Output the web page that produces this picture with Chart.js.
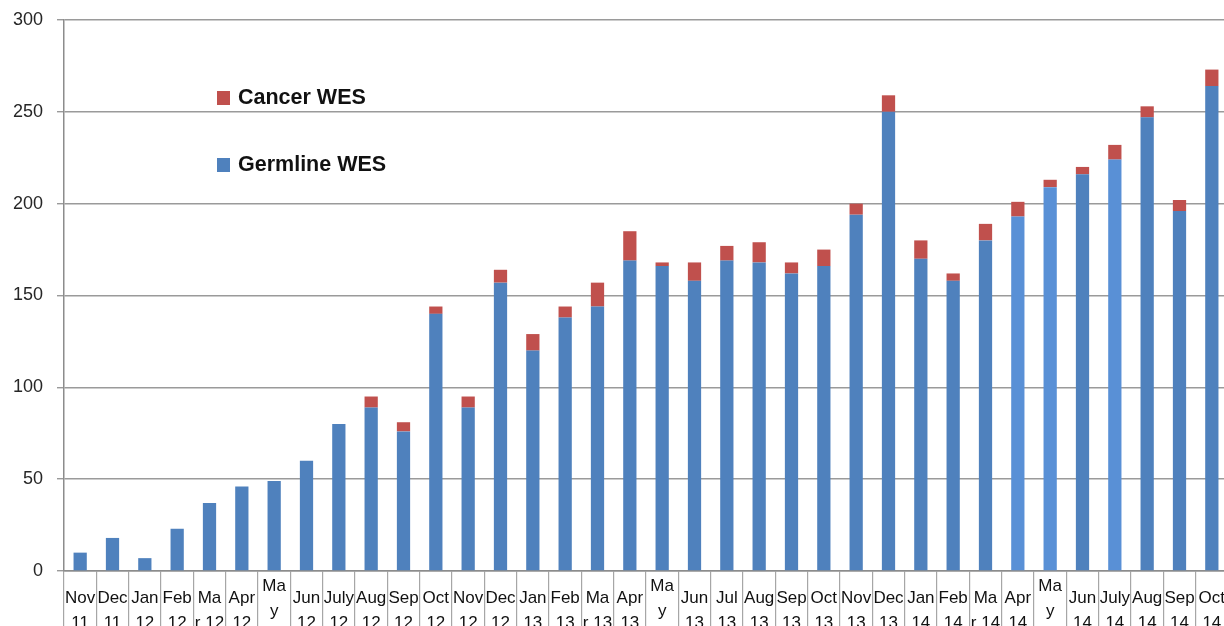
<!DOCTYPE html>
<html>
<head>
<meta charset="utf-8">
<script src="https://cdn.jsdelivr.net/npm/chart.js@4/dist/chart.umd.min.js"></script>
<style>
  html, body { margin: 0; padding: 0; background: #fff; overflow: hidden; }
  #wrap { width: 1232px; height: 660px; }
</style>
</head>
<body>
<div id="wrap"><canvas id="c" width="1232" height="660"></canvas></div>
<script>
// Monthly whole-exome sequencing volumes, Nov 2011 – Oct 2014
const monthLabels = [
  ["Nov", "11"], ["Dec", "11"], ["Jan", "12"], ["Feb", "12"], ["Ma", "r 12"], ["Apr", "12"],
  ["Ma", "y", "12"], ["Jun", "12"], ["July", "12"], ["Aug", "12"], ["Sep", "12"], ["Oct", "12"],
  ["Nov", "12"], ["Dec", "12"], ["Jan", "13"], ["Feb", "13"], ["Ma", "r 13"], ["Apr", "13"],
  ["Ma", "y", "13"], ["Jun", "13"], ["Jul", "13"], ["Aug", "13"], ["Sep", "13"], ["Oct", "13"],
  ["Nov", "13"], ["Dec", "13"], ["Jan", "14"], ["Feb", "14"], ["Ma", "r 14"], ["Apr", "14"],
  ["Ma", "y", "14"], ["Jun", "14"], ["July", "14"], ["Aug", "14"], ["Sep", "14"], ["Oct", "14"]
];

const germlineWES = [
  10, 18, 7, 23, 37, 46, 49, 60, 80, 89, 76, 140,
  89, 157, 120, 138, 144, 169, 166, 158, 169, 168, 162, 166,
  194, 250, 170, 158, 180, 193, 209, 216, 224, 247, 196, 264
];

const cancerWES = [
  0, 0, 0, 0, 0, 0, 0, 0, 0, 6, 5, 4,
  6, 7, 9, 6, 13, 16, 2, 10, 8, 11, 6, 9,
  6, 9, 10, 4, 9, 8, 4, 4, 8, 6, 6, 9
];

const yTickValues = [0, 50, 100, 150, 200, 250, 300];

// colours
const BLUE = '#4f81bd';
const BLUE_LIGHT = '#5990d6';
const RED = '#c0504d';
const lighterBars = new Set([29, 30, 32]);   // Apr 14, May 14, July 14 were filled a shade lighter
const germlineColors = germlineWES.map((_, i) => lighterBars.has(i) ? BLUE_LIGHT : BLUE);

// legend drawn inside the plot, stacked vertically
const insideLegend = {
  id: 'insideLegend',
  afterDraw(chart) {
    const ctx = chart.ctx;
    const entries = [
      { ds: chart.data.datasets[1], y: 98 },
      { ds: chart.data.datasets[0], y: 165 }
    ];
    ctx.save();
    ctx.font = 'bold 21.5px "Liberation Sans", Arial, sans-serif';
    ctx.textBaseline = 'middle';
    ctx.textAlign = 'left';
    entries.forEach(e => {
      const c = Array.isArray(e.ds.backgroundColor) ? e.ds.backgroundColor[0] : e.ds.backgroundColor;
      ctx.fillStyle = c;
      ctx.fillRect(217, e.y - 7, 13, 14);
      ctx.fillStyle = '#111';
      ctx.fillText(e.ds.label, 238, e.y);
    });
    ctx.restore();
  }
};

new Chart(document.getElementById('c'), {
  type: 'bar',
  data: {
    labels: monthLabels,
    datasets: [
      {
        label: 'Germline WES',
        data: germlineWES,
        backgroundColor: germlineColors,
        borderWidth: 0,
        categoryPercentage: 1,
        barPercentage: 0.41
      },
      {
        label: 'Cancer WES',
        data: cancerWES,
        backgroundColor: RED,
        borderWidth: 0,
        categoryPercentage: 1,
        barPercentage: 0.41
      }
    ]
  },
  options: {
    responsive: false,
    animation: false,
    devicePixelRatio: 1,
    layout: { padding: { top: 20, right: 4, left: 0, bottom: 0 } },
    plugins: {
      legend: { display: false },
      tooltip: { enabled: false }
    },
    scales: {
      x: {
        stacked: true,
        offset: true,
        grid: {
          offset: true,
          drawOnChartArea: false,
          drawTicks: true,
          tickLength: 70,
          color: '#a6a6a6',
          lineWidth: 1.2
        },
        border: { display: true, color: '#8c8c8c', width: 1.5 },
        ticks: {
          autoSkip: false,
          maxRotation: 0,
          minRotation: 0,
          padding: -55,
          crossAlign: 'center',
          color: '#111',
          font: { family: '"Liberation Sans Narrow", "Liberation Sans", Arial, sans-serif', size: 17, lineHeight: '25px' }
        },
        afterFit(scale) {
          scale.height = 660 - 571;
          scale.paddingLeft = 0;
          scale.paddingRight = 0;
        }
      },
      y: {
        stacked: true,
        min: 0,
        max: 300,
        afterBuildTicks(scale) { scale.ticks = yTickValues.map(v => ({ value: v })); },
        grid: {
          color: '#9a9a9a',
          lineWidth: 1.4,
          drawTicks: true,
          tickLength: 7
        },
        border: { display: true, color: '#8c8c8c', width: 1.5 },
        ticks: {
          padding: 14,
          color: '#262626',
          font: { family: '"Liberation Sans", Arial, sans-serif', size: 18 }
        },
        afterFit(scale) {
          scale.width = 64;
          scale.paddingTop = 0;
          scale.paddingBottom = 0;
        }
      }
    }
  },
  plugins: [insideLegend]
});
</script>
</body>
</html>
